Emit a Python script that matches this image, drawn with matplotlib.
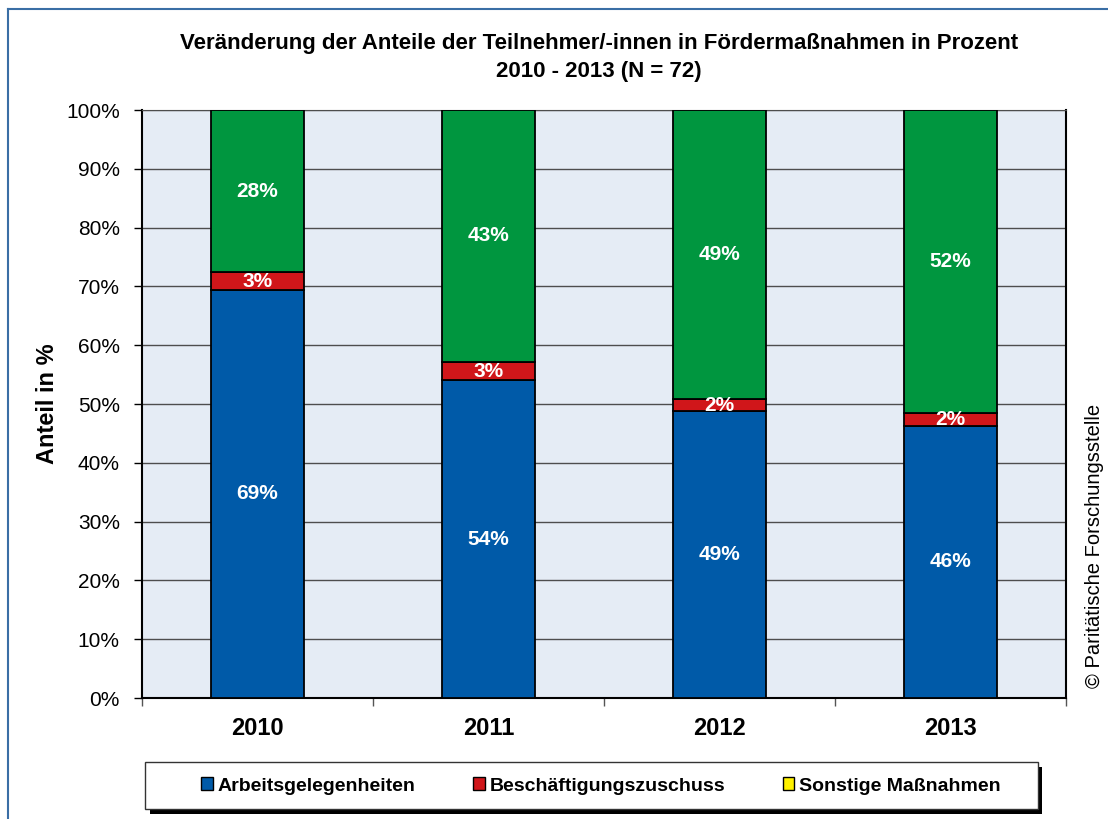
import numpy as np
import matplotlib
matplotlib.use('Agg')
import matplotlib.pyplot as plt
from matplotlib.lines import Line2D
from matplotlib.patches import Patch, Rectangle

plt.rcParams['font.family'] = ['Liberation Sans', 'DejaVu Sans']

# Daten (Anteile in %)
years = ['2010', '2011', '2012', '2013']
arbeit = [69.4, 54.0, 48.8, 46.3]
beschaeftigung = [3.0, 3.2, 2.0, 2.1]
sonstige = [0.0, 0.0, 0.0, 0.0]
rest_green = [27.6, 42.8, 49.2, 51.6]

COL_BLUE = '#005AA8'
COL_RED = '#D0161A'
COL_YELLOW = '#FFF200'
COL_GREEN = '#00963F'
BG = '#E5ECF5'

W, H = 1108, 819


def fx(px):
    return px / W


def fy(py):
    return 1 - py / H


def main():
    fig = plt.figure(figsize=(W / 100, H / 100), dpi=100)
    ax = fig.add_axes([fx(142), fy(698), fx(1066) - fx(142), fy(110) - fy(698)])
    ax.set_facecolor(BG)

    x = np.arange(len(years))
    width = 0.4
    bottom = np.zeros(len(years))
    series = [(arbeit, COL_BLUE), (beschaeftigung, COL_RED),
              (sonstige, COL_YELLOW), (rest_green, COL_GREEN)]
    for vals, col in series:
        vals = np.array(vals)
        ax.bar(x, vals, width, bottom=bottom, color=col, edgecolor='black',
               linewidth=1.3, zorder=3)
        for i in range(len(years)):
            if vals[i] > 0.5:
                ax.text(x[i], bottom[i] + vals[i] / 2, '%d%%' % round(vals[i]),
                        ha='center', va='center', color='white',
                        fontsize=15, fontweight='bold', zorder=4)
        bottom = bottom + vals

    ax.set_xlim(-0.5, 3.5)
    ax.set_ylim(0, 100)
    ax.set_yticks(np.arange(0, 101, 10))
    ax.set_yticklabels(['%d%%' % v for v in range(0, 101, 10)], fontsize=15)
    ax.yaxis.grid(True, color='#4d4d4d', linewidth=1.0, zorder=1)
    ax.set_axisbelow(True)
    ax.tick_params(axis='y', direction='out', length=6, width=1, pad=10)

    ax.set_xticks(x)
    ax.set_xticklabels(years, fontsize=17, fontweight='bold')
    ax.set_xticks(np.arange(-0.5, 3.6, 1), minor=True)
    ax.tick_params(axis='x', which='major', length=0, pad=14)
    ax.tick_params(axis='x', which='minor', direction='out', length=6,
                   width=1, color='#555555')

    for s in ['left', 'bottom', 'right']:
        ax.spines[s].set_color('black')
        ax.spines[s].set_linewidth(1.5)
    ax.spines['top'].set_color('#4d4d4d')

    ax.set_ylabel('Anteil in %', fontsize=17, fontweight='bold', labelpad=5)

    fig.text(fx(599), fy(44), 'Veränderung der Anteile der Teilnehmer/-innen in Fördermaßnahmen in Prozent',
             ha='center', va='center', fontsize=16, fontweight='bold')
    fig.text(fx(599), fy(71), '2010 - 2013 (N = 72)',
             ha='center', va='center', fontsize=16, fontweight='bold')

    fig.text(fx(1095), fy(546), '© Paritätische Forschungsstelle', rotation=90,
             ha='center', va='center', fontsize=14.5)

    # Legendenrahmen mit Schatten
    fig.add_artist(Rectangle((fx(150), fy(814)), fx(1042) - fx(150), fy(767) - fy(814),
                             transform=fig.transFigure, facecolor='black',
                             edgecolor='none', zorder=1))
    fig.add_artist(Rectangle((fx(145), fy(809)), fx(1038) - fx(145), fy(762) - fy(809),
                             transform=fig.transFigure, facecolor='white',
                             edgecolor='#333333', linewidth=1.0, zorder=2))

    handles = [Patch(facecolor=COL_BLUE, edgecolor='black'),
               Patch(facecolor=COL_RED, edgecolor='black'),
               Patch(facecolor=COL_YELLOW, edgecolor='black')]
    labels = ['Arbeitsgelegenheiten', 'Beschäftigungszuschuss', 'Sonstige Maßnahmen']
    leg = fig.legend(handles, labels, loc='center', ncol=3,
                     bbox_to_anchor=(fx(601), fy(786)),
                     prop={'weight': 'bold', 'size': 14},
                     handlelength=0.6, handleheight=0.6, handletextpad=0.25,
                     columnspacing=2.95, borderaxespad=0, frameon=False)
    leg.set_zorder(3)

    # Rahmen
    fig.add_artist(Line2D([fx(8), fx(8)], [fy(9), 0], color='#3A6EA5', lw=1.5))
    fig.add_artist(Line2D([fx(8), 1], [fy(9), fy(9)], color='#3A6EA5', lw=1.5))

    fig.savefig('out.png', dpi=100)


if __name__ == '__main__':
    main()
